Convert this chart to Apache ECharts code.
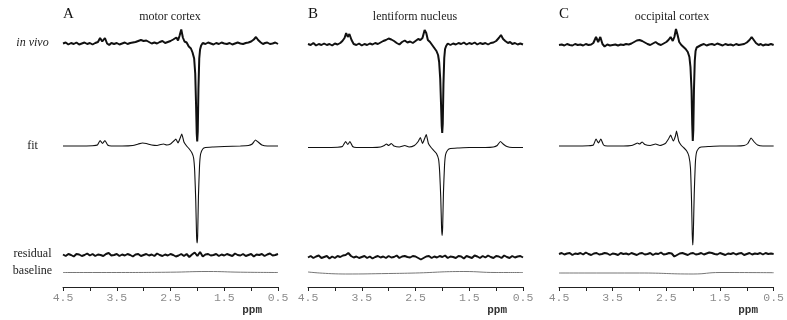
<!DOCTYPE html>
<html>
<head>
<meta charset="utf-8">
<script src="https://cdn.jsdelivr.net/npm/echarts@6/dist/echarts.min.js"></script>
<style>html,body{margin:0;padding:0;background:#fff}#c{width:787px;height:320px}</style>
</head>
<body>
<div id="c"></div>
<script>
// ---------- data (ppm, signal in arbitrary units, positive = up) ----------
const PANELS = ['A', 'B', 'C'];
const TITLES = ['motor cortex', 'lentiform nucleus', 'occipital cortex'];
const ROW_LABELS = ['in vivo', 'fit', 'residual', 'baseline'];
const TICK_LABELS = [4.5, 3.5, 2.5, 1.5, 0.5];
const AXIS_NAME = 'ppm';

const INVIVO_A = [[4.5,0],[4.45,1],[4.4,-1],[4.35,0.5],[4.3,-0.5],[4.25,1],[4.2,-1],[4.15,0],[4.1,1],[4.05,-0.5],[4.0,0.5],[3.95,-1],[3.9,0.5],[3.85,1.5],[3.81,5.5],[3.77,2],[3.72,5.5],[3.68,0],[3.64,-1.5],[3.6,0.5],[3.55,-0.5],[3.5,0.5],[3.45,-1],[3.4,0],[3.35,1],[3.3,-0.5],[3.25,0.5],[3.2,1],[3.15,1.5],[3.1,2.5],[3.05,3.5],[3.0,2.5],[2.95,3],[2.9,1.5],[2.85,0],[2.8,1],[2.75,0],[2.7,1.5],[2.65,2.5],[2.6,0.5],[2.55,1.5],[2.5,2.5],[2.45,4],[2.42,3],[2.39,6],[2.36,3],[2.33,8],[2.30,14],[2.27,6],[2.24,2],[2.2,1],[2.16,-3],[2.12,-5],[2.09,-9],[2.06,-15],[2.04,-30],[2.025,-60],[2.012,-90],[2.003,-98],[1.993,-88],[1.98,-45],[1.965,-15],[1.95,-6],[1.93,-2],[1.9,0.5],[1.85,-0.5],[1.8,1],[1.75,0],[1.7,-1],[1.65,0.5],[1.6,-0.5],[1.55,1],[1.5,0],[1.45,-0.5],[1.4,0.5],[1.35,-1],[1.3,0],[1.25,1],[1.2,0],[1.15,-0.5],[1.1,0.5],[1.05,1],[1.0,2],[0.95,4],[0.91,6.5],[0.87,3.5],[0.82,1],[0.78,-0.5],[0.74,0.5],[0.7,1],[0.65,-0.5],[0.6,0],[0.55,1],[0.5,-0.5]];

const INVIVO_B = [[4.5,0],[4.45,-1],[4.4,1],[4.35,-1.5],[4.3,0],[4.25,-1],[4.2,0.5],[4.15,-1],[4.1,0],[4.05,-1.5],[4.0,0.5],[3.95,-0.5],[3.9,1],[3.86,3],[3.82,6],[3.79,11],[3.76,7],[3.73,10],[3.69,4],[3.65,0],[3.6,-1],[3.55,0.5],[3.5,-1.5],[3.45,0],[3.4,-1],[3.35,0.5],[3.3,-0.5],[3.25,1],[3.2,0],[3.15,1.5],[3.1,3],[3.05,4],[3.0,5.5],[2.95,4.5],[2.9,3],[2.85,1],[2.8,-0.5],[2.75,2],[2.7,3.5],[2.65,1.5],[2.6,2.5],[2.55,1],[2.5,3],[2.45,5],[2.41,4],[2.37,6],[2.33,14],[2.30,11],[2.27,4],[2.23,2],[2.19,-1],[2.15,-4],[2.11,-7],[2.08,-11],[2.06,-18],[2.04,-35],[2.025,-60],[2.012,-82],[2.003,-89],[1.993,-80],[1.98,-40],[1.965,-14],[1.95,-5],[1.93,-2],[1.9,0.5],[1.85,-1],[1.8,0.5],[1.75,-0.5],[1.7,1],[1.65,0],[1.6,1.5],[1.55,-0.5],[1.5,1],[1.45,0],[1.4,1.5],[1.35,-0.5],[1.3,1],[1.25,0],[1.2,1],[1.15,-0.5],[1.1,1],[1.05,1.5],[1.0,3],[0.95,6],[0.91,9],[0.87,5],[0.83,3],[0.78,1],[0.74,2],[0.7,0],[0.65,1],[0.6,-0.5],[0.55,0.5],[0.5,-0.5]];

const INVIVO_C = [[4.5,0],[4.45,0.5],[4.4,-0.5],[4.35,1],[4.3,0],[4.25,-0.5],[4.2,1],[4.15,0],[4.1,0.5],[4.05,-0.5],[4.0,1],[3.95,0],[3.9,0.5],[3.86,2],[3.81,8],[3.77,3],[3.73,8],[3.69,1],[3.65,-1.5],[3.6,0.5],[3.55,-0.5],[3.5,0],[3.45,0.5],[3.4,-0.5],[3.35,0.5],[3.3,0],[3.25,1],[3.2,0.5],[3.15,1.5],[3.1,3],[3.05,4.5],[3.0,5],[2.95,4],[2.9,2.5],[2.85,1],[2.8,0],[2.75,1.5],[2.7,3],[2.65,1],[2.6,0],[2.55,1.5],[2.5,3],[2.46,5],[2.42,8],[2.38,4],[2.35,8],[2.32,16],[2.29,10],[2.26,3],[2.22,0],[2.18,-2],[2.14,-4],[2.1,-7],[2.07,-12],[2.05,-22],[2.03,-45],[2.017,-80],[2.007,-96],[1.997,-85],[1.985,-45],[1.97,-16],[1.955,-6],[1.935,-2.5],[1.9,-1],[1.85,0],[1.8,1],[1.75,-0.5],[1.7,0.5],[1.65,1],[1.6,0],[1.55,1.5],[1.5,0.5],[1.45,-0.5],[1.4,1],[1.35,0],[1.3,0.5],[1.25,-0.5],[1.2,1],[1.15,0],[1.1,0.5],[1.05,1],[1.0,2.5],[0.95,5],[0.91,8],[0.87,5],[0.83,2],[0.78,0],[0.74,1],[0.7,-0.5],[0.65,0.5],[0.6,0],[0.55,1],[0.5,0]];

const FIT_A = [[4.5,0],[4.2,0],[3.95,0.3],[3.86,1],[3.81,5.5],[3.765,2.5],[3.72,5.5],[3.67,1],[3.6,0],[3.4,0],[3.2,0.5],[3.1,2],[3.02,3],[2.95,2.5],[2.85,1],[2.75,0.5],[2.68,1.5],[2.63,2],[2.57,1],[2.5,2],[2.44,5],[2.40,7],[2.36,3],[2.32,8],[2.29,12],[2.25,4],[2.20,0],[2.15,-3],[2.10,-7],[2.07,-12],[2.05,-25],[2.03,-55],[2.015,-90],[2.005,-97],[1.995,-90],[1.98,-50],[1.96,-20],[1.94,-8],[1.90,-3],[1.85,-1.5],[1.7,-1],[1.5,-0.5],[1.2,0],[1.05,0.5],[0.98,2],[0.92,6],[0.87,4],[0.80,1],[0.7,0],[0.5,0]];

const FIT_B = [[4.5,0],[4.2,0],[3.95,0.3],[3.86,1],[3.80,6],[3.76,3],[3.72,6],[3.67,1],[3.6,0],[3.3,0],[3.15,0.5],[3.08,2],[3.04,3.5],[3.0,2],[2.95,4],[2.9,1.5],[2.8,0.5],[2.7,2],[2.62,0.5],[2.52,2],[2.45,6],[2.41,10],[2.37,4],[2.33,9],[2.30,13],[2.26,4],[2.21,0],[2.16,-3],[2.11,-6],[2.07,-12],[2.05,-25],[2.03,-50],[2.015,-80],[2.005,-88],[1.995,-80],[1.98,-45],[1.96,-18],[1.94,-7],[1.9,-2.5],[1.85,-1],[1.7,-0.5],[1.5,0],[1.2,0],[1.05,0.5],[0.98,2],[0.92,6],[0.87,3.5],[0.8,1],[0.7,0],[0.5,0]];

const FIT_C = [[4.5,0],[4.2,0],[3.95,0.3],[3.86,1],[3.81,7],[3.765,3],[3.72,7],[3.67,1],[3.6,0],[3.3,0],[3.15,0.5],[3.08,2],[3.04,3],[3.0,2],[2.95,4],[2.9,1.5],[2.8,0.5],[2.7,2],[2.62,0.5],[2.52,2.5],[2.46,7],[2.42,11],[2.37,5],[2.33,10],[2.31,15],[2.27,5],[2.22,0.5],[2.17,-2],[2.12,-5],[2.08,-10],[2.05,-22],[2.03,-55],[2.017,-88],[2.007,-99],[1.997,-88],[1.98,-48],[1.96,-18],[1.94,-7],[1.9,-2.5],[1.85,-1],[1.7,-0.5],[1.5,0],[1.2,0],[1.05,0.5],[0.98,2.5],[0.92,8],[0.87,4.5],[0.8,1],[0.7,0],[0.5,0]];

// residuals sampled every 0.05 ppm from 4.5 down to 0.5
const RES_A = [0.5,-1,1,0,-1.5,1,0.5,-1,0,1.5,-0.5,1,-1,0.5,0,-1,1,2,-0.5,0,
  1,-1,0.5,-0.5,1,0,-1.5,0.5,1,-1,
  0,1,-0.5,0.5,-1,1.5,0,-1,0.5,-0.5,
  1,0,-1.5,-0.5,1,-1,1,-2,0.5,2.5,
  -1,3,-1.5,0.5,1,-0.5,0,1,-1,0.5,
  -0.5,1,0,-1,1.5,0,-0.5,1,-1,0,
  1,-1.5,0.5,0,1,-1,0.5,1.5,-0.5,0,1];
const RES_B = [-0.5,1,-1,0.5,1.5,-1,0,1,-1.5,0.5,-1,1,0,1.5,2,4,1,-0.5,0.5,-1,
  0,1,-1,0.5,-1.5,0,1,-0.5,0.5,-1,
  1,-0.5,0,1.5,-1,0.5,1,0,-0.5,1,
  0.5,-1,-2.5,-1,0.5,1,-1,0.5,-0.5,1,
  0,1.5,-1,0.5,0,-1,1,0.5,-1.5,1,
  0,-1,1.5,0.5,-1,1,-0.5,1.5,0,-1,
  1,0.5,-1,1.5,0,-1,1,-0.5,0.5,1,-0.5];
const RES_C = [0,1,-0.5,0.5,1,-1,0.5,0,1,-0.5,1.5,0,-1,0.5,1,-0.5,0,1,0.5,-1,
  0.5,0,-1,1,0,0.5,-0.5,1,0,-1,
  0.5,1,-0.5,0,1,-1,0.5,0,1.5,-0.5,
  0,1,0.5,-2.5,-1,0.5,1,0,-1,0.5,
  1,-0.5,0,1,-0.5,0.5,1.5,1,0,-0.5,
  1,0,-1,0.5,0,1,-0.5,0.5,1,-1,
  0,1,-0.5,0.5,0,1,-0.5,1,0,0.5,0];
const RES_START = 4.5, RES_STEP = 0.05;

const BASE_A = [[4.5,0],[3.5,0],[2.5,0.3],[1.8,1],[1.2,0.3],[0.5,0]];
const BASE_B = [[4.5,1],[3.8,-1],[3.0,-0.5],[2.5,0],[1.6,1.5],[1.0,0.5],[0.5,0.5]];
const BASE_C = [[4.5,0],[3.0,0],[2.0,-1],[1.5,0.5],[0.5,0.3]];

// ---------- layout (vertical offsets of each trace, in axis units) ----------
const INVIVO = [INVIVO_A, INVIVO_B, INVIVO_C];
const FIT = [FIT_A, FIT_B, FIT_C];
const RES = [RES_A, RES_B, RES_C];
const BASE = [BASE_A, BASE_B, BASE_C];
const OFFSETS = [
  [243.5, 141, 32, 14.5],
  [243, 139.5, 30, 14],
  [242, 141, 33, 14]
];
const GRID_LEFT = [63, 308, 559];
const GRID_W = 215, GRID_TOP = 20, GRID_H = 267;

function shift(arr, off) { return arr.map(p => [p[0], p[1] + off]); }
function resPairs(vals, off) { return vals.map((v, i) => [+(RES_START - i * RES_STEP).toFixed(3), v + off]); }

const chart = echarts.init(document.getElementById('c'), null, {renderer: 'canvas'});
const grids = [], xAxes = [], yAxes = [], series = [], graphics = [];
const serif = '"Liberation Serif", "Times New Roman", serif';
const mono = '"Liberation Mono", "Courier New", monospace';

for (let i = 0; i < 3; i++) {
  grids.push({left: GRID_LEFT[i], width: GRID_W, top: GRID_TOP, height: GRID_H});
  xAxes.push({
    gridIndex: i, type: 'value', min: 0.5, max: 4.5, interval: 0.5, inverse: true,
    axisLine: {show: true, lineStyle: {color: '#222', width: 1}},
    axisTick: {show: true, inside: false, length: 4, lineStyle: {color: '#222', width: 1}},
    splitLine: {show: false},
    axisLabel: {
      show: true, color: '#8c8c8c', fontFamily: mono, fontSize: 11.5, margin: 5,
      formatter: v => TICK_LABELS.some(t => Math.abs(t - v) < 1e-6) ? v.toFixed(1) : ''
    }
  });
  yAxes.push({gridIndex: i, type: 'value', min: 0, max: GRID_H, show: false});
  const common = {type: 'line', xAxisIndex: i, yAxisIndex: i, showSymbol: false, symbol: 'none', clip: false, silent: true};
  series.push(Object.assign({}, common, {data: shift(INVIVO[i], OFFSETS[i][0]), lineStyle: {color: '#111', width: 2}}));
  series.push(Object.assign({}, common, {data: shift(FIT[i], OFFSETS[i][1]), smooth: 0.15, lineStyle: {color: '#111', width: 1.1}}));
  series.push(Object.assign({}, common, {data: resPairs(RES[i], OFFSETS[i][2]), lineStyle: {color: '#111', width: 2}}));
  series.push(Object.assign({}, common, {data: shift(BASE[i], OFFSETS[i][3]), smooth: 0.5, lineStyle: {color: '#666', width: 0.9}}));

  graphics.push({type: 'text', left: GRID_LEFT[i], top: 7, style: {text: PANELS[i], font: '15px ' + serif, fill: '#111'}});
  graphics.push({type: 'text', x: GRID_LEFT[i] + [107, 107, 113][i], y: 17,
    style: {text: TITLES[i], font: '12px ' + serif, fill: '#222', textAlign: 'center', textVerticalAlign: 'middle'}});
  graphics.push({type: 'text', x: GRID_LEFT[i] + GRID_W * 0.875 + 1, y: 310,
    style: {text: AXIS_NAME, font: 'bold 11px ' + mono, fill: '#333', textAlign: 'center', textVerticalAlign: 'middle'}});
}
const ROW_Y = [43, 146, 254, 271];
ROW_LABELS.forEach((t, k) => {
  graphics.push({type: 'text', x: 32.5, y: ROW_Y[k],
    style: {text: t, font: (k === 0 ? 'italic ' : '') + '12px ' + serif, fill: '#222', textAlign: 'center', textVerticalAlign: 'middle'}});
});

chart.setOption({
  animation: false,
  backgroundColor: '#fff',
  grid: grids, xAxis: xAxes, yAxis: yAxes, series: series, graphic: graphics
});
</script>
</body>
</html>
